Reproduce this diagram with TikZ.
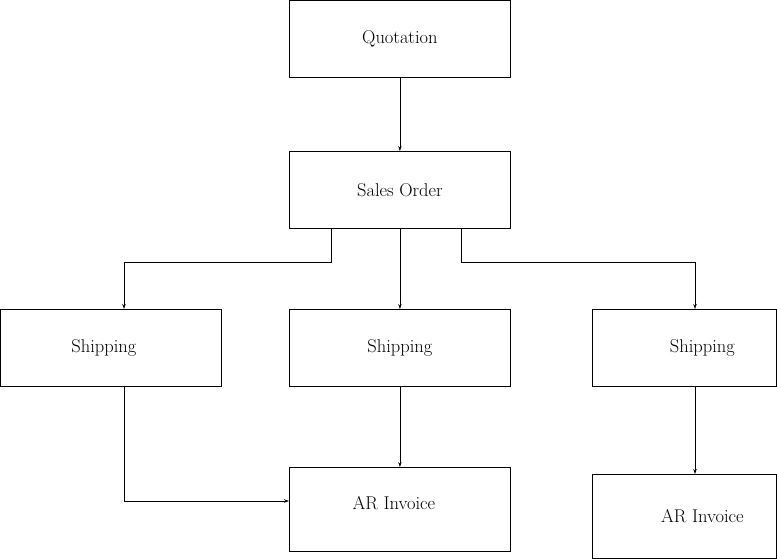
\documentclass[tikz,border=0pt]{standalone}
\usepackage{tikz}
\usetikzlibrary{arrows.meta}
\begin{document}
\begin{tikzpicture}[x=1pt,y=-1pt,font=\fontsize{18.5}{22}\selectfont]
  \tikzset{
  box/.style={draw,rectangle,anchor=north west,inner sep=0pt,line width=0.8pt,
    minimum width=221pt,minimum height=77pt},
  nbox/.style={box,minimum width=184pt},
  ar/.style={-{Stealth[length=5pt,width=3.5pt]},line width=0.8pt},
  }
  \useasboundingbox (0,0) rectangle (777,559);
  % the boxes
  \node[box] (qt) at (289, 0) {Quotation};
  \node[box] (so) at (289, 151) {Sales Order};

  \node[box,label={[xshift=-7pt]center:Shipping}] (sh1) at (0, 309) {};
  \node[box] (sh2) at (289, 309) {Shipping};
  \node[nbox,label={[xshift=18pt]center:Shipping}] (sh3) at (592, 309) {};

  \node[box,minimum height=84pt,label={[xshift=-6pt,yshift=6pt]center:AR Invoice}] (ar1) at (289, 467) {};
  \node[nbox,minimum height=84pt,label={[xshift=18pt]center:AR Invoice}] (ar2) at (592, 474) {};

  % the connections between the boxes
  \draw[ar] (qt) -- (so);
  \draw[ar] (so) -- (sh2);
  \draw[ar] ([xshift=42pt]so.south west) -- ++(0,34) -| ([xshift=124pt]sh1.north west);
  \draw[ar] ([xshift=172pt]so.south west) -- ++(0,34) -| ([xshift=103pt]sh3.north west);
  \draw[ar] ([xshift=124pt]sh1.south west) |- ([yshift=-34pt]ar1.north west);
  \draw[ar] (sh2) -- (ar1);
  \draw[ar] ([xshift=103pt]sh3.south west) -- ([xshift=103pt]ar2.north west);
\end{tikzpicture}
\end{document}
